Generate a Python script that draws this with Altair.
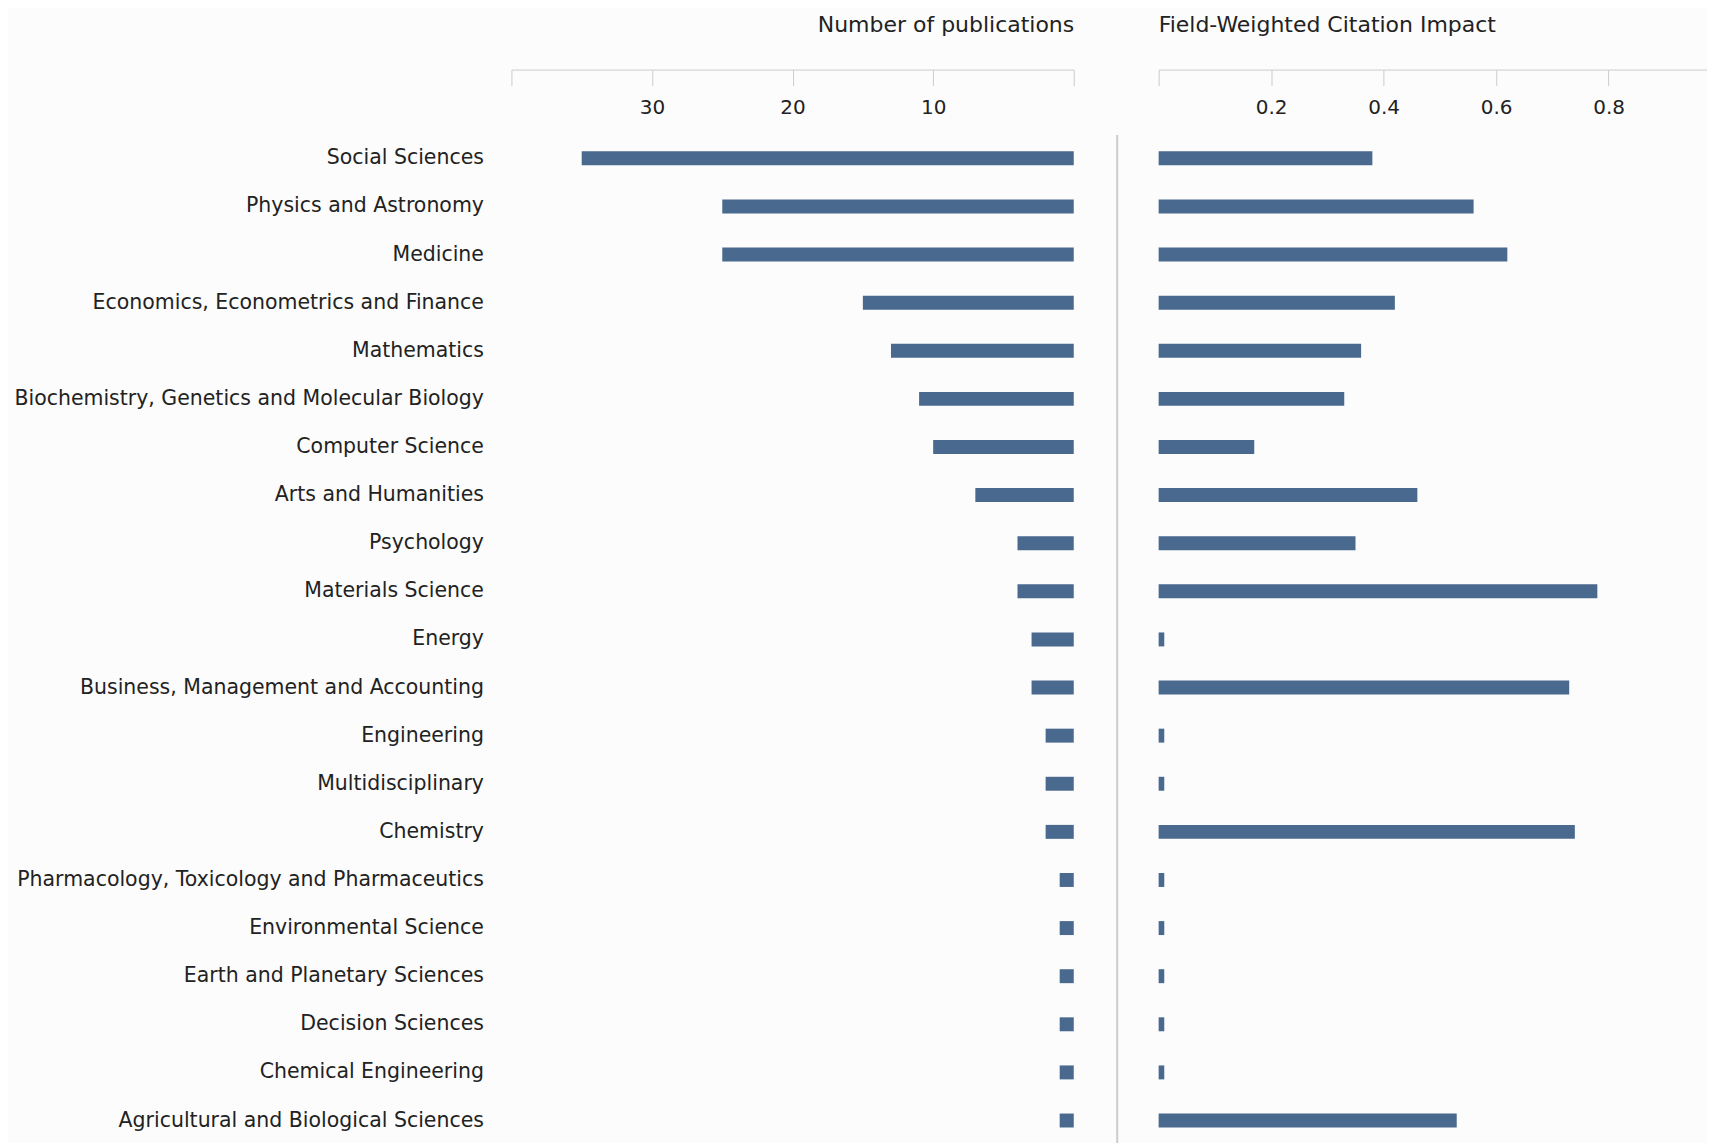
import altair as alt
import pandas as pd

categories = [
    "Social Sciences",
    "Physics and Astronomy",
    "Medicine",
    "Economics, Econometrics and Finance",
    "Mathematics",
    "Biochemistry, Genetics and Molecular Biology",
    "Computer Science",
    "Arts and Humanities",
    "Psychology",
    "Materials Science",
    "Energy",
    "Business, Management and Accounting",
    "Engineering",
    "Multidisciplinary",
    "Chemistry",
    "Pharmacology, Toxicology and Pharmaceutics",
    "Environmental Science",
    "Earth and Planetary Sciences",
    "Decision Sciences",
    "Chemical Engineering",
    "Agricultural and Biological Sciences",
]
publications = [35, 25, 25, 15, 13, 11, 10, 7, 4, 4, 3, 3, 2, 2, 2, 1, 1, 1, 1, 1, 1]
fwci = [0.38, 0.56, 0.62, 0.42, 0.36, 0.33, 0.17, 0.46, 0.35, 0.78, 0.01,
        0.73, 0.01, 0.01, 0.74, 0.01, 0.01, 0.01, 0.01, 0.01, 0.53]

pub_ticks = [0, 10, 20, 30, 40]
fwci_ticks = [0, 0.2, 0.4, 0.6, 0.8]

df = pd.DataFrame({"category": categories, "publications": publications, "fwci": fwci})

H = 1011
FONT = "DejaVu Sans"
BAR = "#49698f"
GRAY = "#cccccc"
TEXT = "#222222"
FS = 20.5
TFS = 20
TITLE_FS = 22

yscale = alt.Scale(paddingInner=0.71, paddingOuter=0.35)

left = alt.Chart(
    df,
    title=alt.Title("Number of publications", anchor="end", font=FONT, fontSize=TITLE_FS,
                    fontWeight="normal", color=TEXT, baseline="bottom", offset=10),
).mark_bar(color=BAR).encode(
    x=alt.X(
        "publications:Q",
        scale=alt.Scale(domain=[0, 40], reverse=True, nice=False),
        axis=alt.Axis(orient="bottom", offset=-(H + 65), values=pub_ticks,
                      labelExpr="datum.value == 0 || datum.value == 40 ? '' : datum.label",
                      grid=False, tickSize=16, labelPadding=12, domainColor=GRAY,
                      tickColor=GRAY, title=None, labelFontSize=TFS, labelColor=TEXT,
                      labelFont=FONT),
    ),
    y=alt.Y(
        "category:N", sort=categories, scale=yscale,
        axis=alt.Axis(title=None, ticks=False, domain=False, labelPadding=28,
                      labelFontSize=FS, labelColor=TEXT, labelFont=FONT, labelLimit=0),
    ),
).properties(width=563, height=H)

right = alt.Chart(
    df,
    title=alt.Title("Field-Weighted Citation Impact", anchor="start", font=FONT, fontSize=TITLE_FS,
                    fontWeight="normal", color=TEXT, baseline="bottom", offset=10, dx=42),
).mark_bar(color=BAR).encode(
    x=alt.X(
        "fwci:Q",
        scale=alt.Scale(domain=[0, 0.975], nice=False),
        axis=alt.Axis(orient="bottom", offset=-(H + 65), values=fwci_ticks, format=".1f",
                      labelExpr="datum.value == 0 ? '' : datum.label",
                      grid=False, tickSize=16, labelPadding=12, domainColor=GRAY,
                      tickColor=GRAY, title=None, labelFontSize=TFS, labelColor=TEXT,
                      labelFont=FONT),
    ),
    y=alt.Y(
        "category:N", sort=categories, scale=yscale,
        axis=alt.Axis(title=None, labels=False, ticks=False, domain=True,
                      domainColor=GRAY, domainWidth=2, offset=42),
    ),
).properties(width=549, height=H)

chart = alt.hconcat(left, right, spacing=42).resolve_scale(
    x="independent", y="independent"
).properties(
    padding={"left": 5, "top": 5, "right": 0, "bottom": 0},
    background="#fcfcfc",
).configure_view(stroke=None)

chart.save("out.html", embed_options={"renderer": "svg", "actions": False})
